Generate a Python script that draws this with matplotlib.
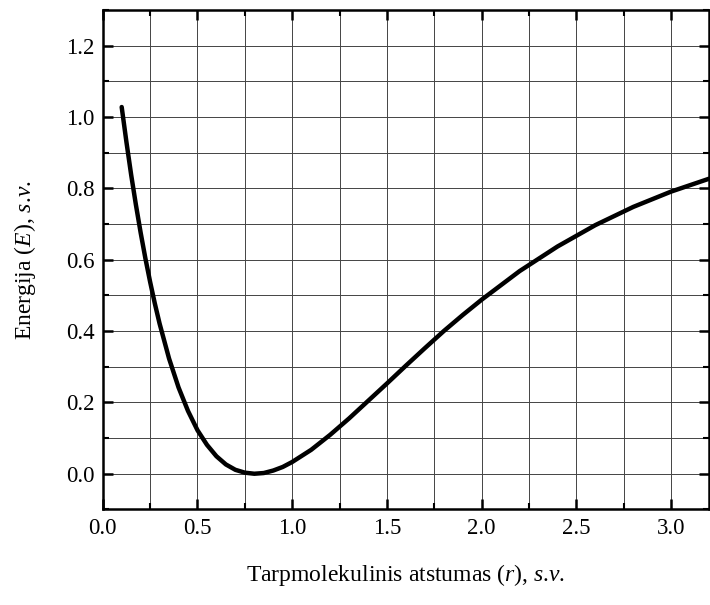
import matplotlib
matplotlib.use("Agg")
import matplotlib.pyplot as plt
from matplotlib.ticker import MultipleLocator

# Values
r_vals = [0.10, 0.125, 0.15, 0.175, 0.20, 0.225, 0.25, 0.275, 0.30, 0.35, 0.40,
          0.45, 0.50, 0.55, 0.60, 0.65, 0.70, 0.75, 0.80, 0.85, 0.90, 0.95,
          1.00, 1.10, 1.20, 1.30, 1.40, 1.50, 1.60, 1.70, 1.80, 1.90, 2.00,
          2.20, 2.40, 2.60, 2.80, 3.00, 3.20]
e_vals = [1.028, 0.930, 0.838, 0.754, 0.676, 0.604, 0.538, 0.477, 0.421, 0.323, 0.242,
          0.176, 0.122, 0.081, 0.049, 0.026, 0.011, 0.003, 0.000, 0.002, 0.009, 0.019,
          0.033, 0.067, 0.109, 0.155, 0.204, 0.253, 0.303, 0.352, 0.400, 0.445, 0.488,
          0.568, 0.637, 0.697, 0.748, 0.791, 0.827]

plt.rcParams["font.family"] = "Liberation Serif"
plt.rcParams["mathtext.fontset"] = "custom"
plt.rcParams["mathtext.rm"] = "Liberation Serif"
plt.rcParams["mathtext.it"] = "Liberation Serif:italic"

fig = plt.figure(figsize=(7.1, 6.05), dpi=100)
ax = fig.add_axes([0.1447, 0.158, 0.854, 0.8255])

ax.plot(r_vals, e_vals, color="black", linewidth=3.2, solid_capstyle="round", zorder=3)

ax.set_xlim(0, 3.2)
ax.set_ylim(-0.1, 1.3)
ax.xaxis.set_major_locator(MultipleLocator(0.5))
ax.xaxis.set_minor_locator(MultipleLocator(0.25))
ax.yaxis.set_major_locator(MultipleLocator(0.2))
ax.yaxis.set_minor_locator(MultipleLocator(0.1))
ax.xaxis.set_major_formatter(plt.FormatStrFormatter("%.1f"))
ax.yaxis.set_major_formatter(plt.FormatStrFormatter("%.1f"))

ax.grid(which="both", color="#444444", linewidth=0.7)
ax.set_axisbelow(True)

ax.tick_params(which="both", direction="in", top=True, right=True, labelsize=16.5, colors="black")
ax.tick_params(which="major", length=7, width=1.8, pad=6)
ax.tick_params(which="minor", length=4, width=1.5)
for s in ax.spines.values():
    s.set_linewidth(1.8)

ax.set_xlabel("Tarpmolekulinis atstumas ($r$), $s$.$v$.", fontsize=17, labelpad=17)
ax.set_ylabel("Energija ($E$), $s$.$v$.", fontsize=17, labelpad=20)

fig.savefig("out.png", dpi=100)
